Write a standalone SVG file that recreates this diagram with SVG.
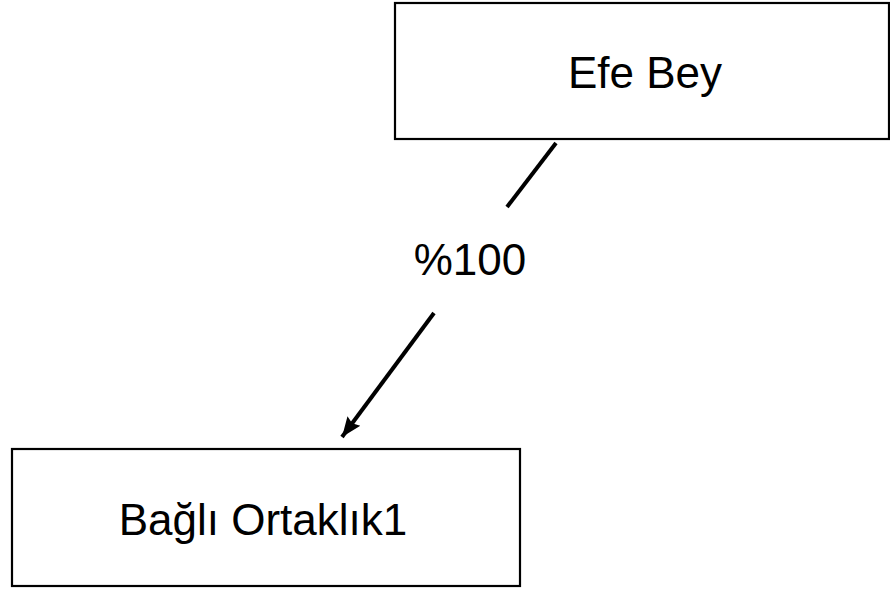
<svg xmlns="http://www.w3.org/2000/svg" width="890" height="590" viewBox="0 0 890 590">
<style>
.box{fill:#fff;stroke:#000;stroke-width:2.2}
.lbl{font-family:"Liberation Sans",Arial,sans-serif;font-size:44px;fill:#000;text-anchor:middle}
.conn{stroke:#000;stroke-width:4;fill:none}
</style>
<defs>
<marker id="arrow" markerUnits="userSpaceOnUse" markerWidth="24" markerHeight="24" viewBox="0 0 24 24" refX="20" refY="12" orient="auto">
<path d="M0,4 L20,12 L0,20 L3,12 Z" fill="#000"/>
</marker>
</defs>
<rect width="890" height="590" fill="#fff"/>
<g id="connectors">
<line class="conn" x1="556" y1="143" x2="507" y2="207"/>
<line class="conn" x1="434" y1="313" x2="342" y2="437" marker-end="url(#arrow)"/>
<text class="lbl" x="470" y="275">%100</text>
</g>
<g id="node-efe">
<rect class="box" x="395" y="3" width="494" height="136"/>
<text class="lbl" x="645" y="88">Efe Bey</text>
</g>
<g id="node-bagli">
<rect class="box" x="12" y="449" width="508" height="137"/>
<text class="lbl" x="263" y="535">Bağlı Ortaklık1</text>
</g>
</svg>
